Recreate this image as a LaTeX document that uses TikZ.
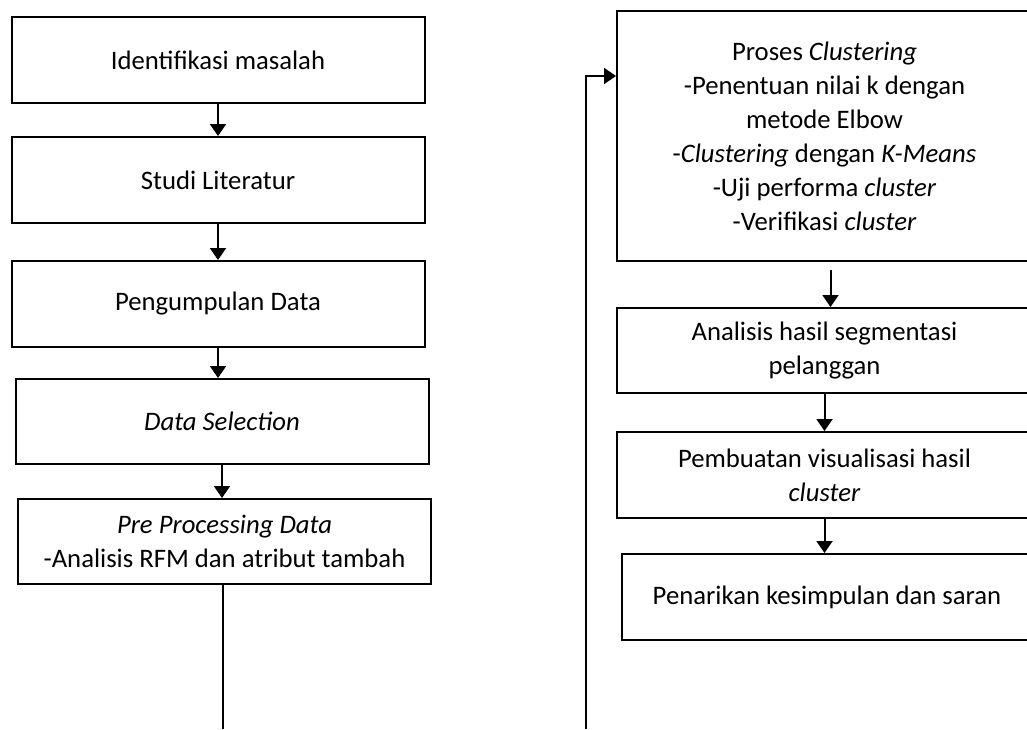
\documentclass[tikz,border=0pt]{standalone}
\usepackage{fontspec}
\setmainfont{Carlito}
\usepackage{tikz}
\usetikzlibrary{arrows.meta, positioning}

\begin{document}
\begin{tikzpicture}[
    x=1pt, y=-1pt,
    stepbox/.style={rectangle, draw, line width=2pt, inner sep=0pt, minimum width=413pt, minimum height=86pt, align=center, font=\fontsize{26.7pt}{34pt}\selectfont},
    arrow/.style={-{Triangle[length=12pt, width=16pt]}, line width=2pt},
    plain/.style={line width=2pt}
]
    % Frame of the page, boxes on the right run past it
    \useasboundingbox (0,0) rectangle (1027,729);
    \clip (0,0) rectangle (1027,729);

    % Left column
    \node[stepbox] (ident) at (218, 60) {Identifikasi masalah};
    \node[stepbox] (studi) at (218, 180) {Studi Literatur};
    \node[stepbox] (kumpul) at (218, 304) {Pengumpulan Data};
    \node[stepbox, minimum height=85pt] (select) at (222, 421.5) {\textit{Data Selection}};
    \node[stepbox, minimum height=85pt] (preproc) at (224.5, 541.5) {\textit{Pre Processing Data}\\-Analisis RFM dan atribut tambah};

    % Right column (right edges lie past the page)
    \node[stepbox, minimum width=415pt, minimum height=250pt] (cluster) at (824.5, 136)
        {Proses \textit{Clustering}\\-Penentuan nilai k dengan\\metode Elbow\\-\textit{Clustering} dengan \textit{K-Means}\\-Uji performa \textit{cluster}\\-Verifikasi \textit{cluster}};
    \node[stepbox, minimum width=415pt, minimum height=85pt] (analisis) at (824.5, 350.5) {Analisis hasil segmentasi\\pelanggan};
    \node[stepbox, minimum width=415pt] (visual) at (824.5, 475) {Pembuatan visualisasi hasil\\\textit{cluster}};
    \node[stepbox, minimum width=410pt] (simpul) at (827, 597) {Penarikan kesimpulan dan saran};

    % Arrows down the left column
    \draw[arrow] (ident.south) -- (studi.north);
    \draw[arrow] (studi.south) -- (kumpul.north);
    \draw[arrow] (kumpul.south) -- (kumpul.south |- select.north);
    \draw[arrow] (select.south) -- (select.south |- preproc.north);

    % Connector from the left column to the right column
    \coordinate (leftend) at (223, 729);
    \coordinate (rightend) at (586, 729);
    \coordinate (turn) at (586, 76);
    \draw[plain] (preproc.south -| leftend) -- (leftend);
    \draw[arrow] (rightend) -- (turn) -- (turn -| cluster.west);

    % Arrows down the right column
    \draw[arrow] ([shift={(6,8)}]cluster.south) -- ([xshift=6pt]analisis.north);
    \draw[arrow] (analisis.south) -- (visual.north);
    \draw[arrow] (visual.south) -- (visual.south |- simpul.north);

\end{tikzpicture}
\end{document}
